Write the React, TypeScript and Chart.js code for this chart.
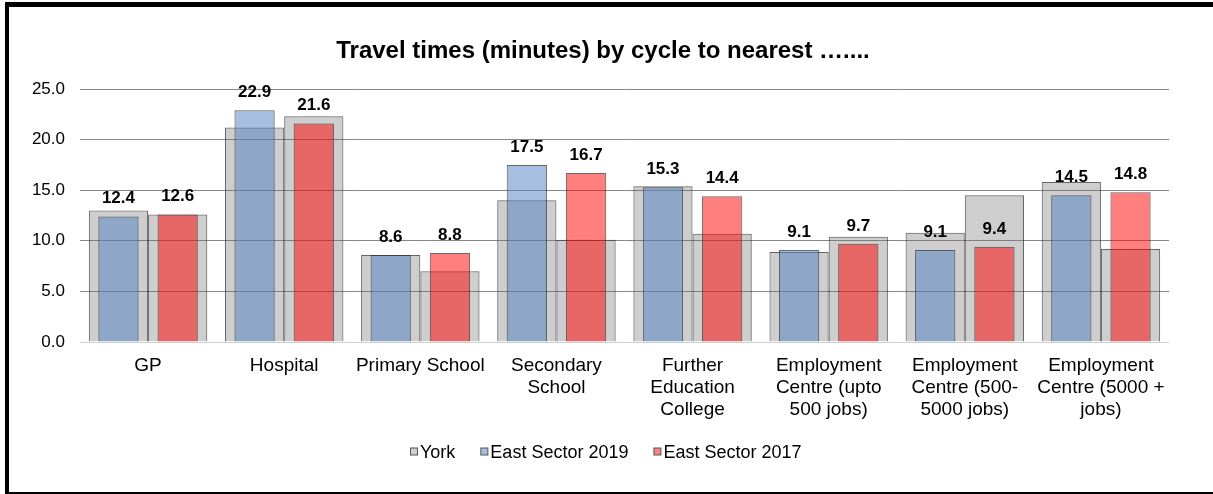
import React, { useEffect, useRef } from 'react';
import { Chart, registerables } from 'chart.js';

Chart.register(...registerables);

const categories: (string | string[])[] = [
  'GP',
  'Hospital',
  'Primary School',
  ['Secondary', 'School'],
  ['Further', 'Education', 'College'],
  ['Employment', 'Centre (upto', '500 jobs)'],
  ['Employment', 'Centre (500-', '5000 jobs)'],
  ['Employment', 'Centre (5000 +', 'jobs)'],
];

// York values (grey bars behind each East Sector bar)
const yorkBehind2019 = [13.0, 21.2, 8.6, 14.0, 15.4, 8.9, 10.8, 15.8];
const yorkBehind2017 = [12.6, 22.3, 7.0, 10.1, 10.7, 10.4, 14.5, 9.2];
const eastSector2019 = [12.4, 22.9, 8.6, 17.5, 15.3, 9.1, 9.1, 14.5];
const eastSector2017 = [12.6, 21.6, 8.8, 16.7, 14.4, 9.7, 9.4, 14.8];

const yMin = 0;
const yMax = 25;
const yStep = 5;

const titleText = 'Travel times (minutes) by cycle to nearest \u2026....';

const GREY = 'rgba(115,115,115,0.35)';
const BLUE = 'rgba(77,127,193,0.5)';
const RED = 'rgba(255,0,0,0.5)';
const EDGE = 'rgba(45,45,45,0.72)';

const legendItems = [
  { label: 'York', fill: '#cfcfcf' },
  { label: 'East Sector 2019', fill: '#a6bfe0' },
  { label: 'East Sector 2017', fill: '#ff8080' },
];

const FONT = "'Liberation Sans', Arial, sans-serif";

const overlayPlugin = {
  id: 'overlay',
  afterDatasetsDraw(chart: any) {
    const ctx = chart.ctx;
    ctx.save();
    ctx.fillStyle = '#000';
    ctx.font = `bold 17px ${FONT}`;
    ctx.textAlign = 'center';
    ctx.textBaseline = 'middle';
    [1, 2].forEach((di) => {
      const meta = chart.getDatasetMeta(di);
      const data = chart.data.datasets[di].data as number[];
      meta.data.forEach((bar: any, i: number) => {
        ctx.fillText(data[i].toFixed(1), bar.x, bar.y - 18);
      });
    });
    ctx.restore();
  },
  afterDraw(chart: any) {
    const ctx = chart.ctx;
    ctx.save();
    // title
    ctx.fillStyle = '#000';
    ctx.font = `bold 24px ${FONT}`;
    ctx.textAlign = 'center';
    ctx.textBaseline = 'middle';
    ctx.fillText(titleText, 603, 51);
    // legend
    ctx.font = `18px ${FONT}`;
    ctx.textAlign = 'left';
    const box = 7;
    const gapBoxText = 3;
    const gapItems = 25;
    const widths = legendItems.map((it) => ctx.measureText(it.label).width);
    const total = widths.reduce((a, w) => a + box + gapBoxText + w, 0) + gapItems * (legendItems.length - 1);
    let x = Math.round(606 - total / 2);
    const y = 452;
    legendItems.forEach((it, i) => {
      ctx.fillStyle = it.fill;
      ctx.fillRect(x + 0.5, y - box / 2 - 0.5, box, box);
      ctx.strokeStyle = '#555';
      ctx.lineWidth = 1;
      ctx.strokeRect(x + 0.5, y - box / 2 - 0.5, box, box);
      ctx.fillStyle = '#000';
      ctx.fillText(it.label, x + box + gapBoxText, y + 1);
      x += box + gapBoxText + widths[i] + gapItems;
    });
    ctx.restore();
  },
};

export default function App() {
  const canvasRef = useRef<HTMLCanvasElement | null>(null);

  useEffect(() => {
    if (!canvasRef.current) return;
    const barCommon = { categoryPercentage: 0.87, borderWidth: 1, borderColor: EDGE };
    const chart = new Chart(canvasRef.current, {
      type: 'bar',
      data: {
        labels: categories as any,
        datasets: [
          { label: 'York', data: yorkBehind2019, backgroundColor: GREY, stack: 'left', order: 2, barPercentage: 1.0, ...barCommon },
          { label: 'East Sector 2019', data: eastSector2019, backgroundColor: BLUE, stack: 'left', order: 1, barPercentage: 0.68, ...barCommon },
          { label: 'East Sector 2017', data: eastSector2017, backgroundColor: RED, stack: 'right', order: 1, barPercentage: 0.68, ...barCommon },
          { label: 'York', data: yorkBehind2017, backgroundColor: GREY, stack: 'right', order: 2, barPercentage: 1.0, ...barCommon },
        ],
      },
      options: {
        responsive: false,
        animation: false,
        layout: { padding: { top: 89, left: 0, right: 44, bottom: 52 } },
        plugins: {
          legend: { display: false },
          title: { display: false },
          tooltip: { enabled: false },
        },
        scales: {
          x: {
            type: 'category',
            offset: true,
            grid: { display: false, drawTicks: false },
            border: { display: false },
            ticks: {
              color: '#000',
              font: { family: FONT, size: 19, lineHeight: 1.16 },
              padding: 13,
              maxRotation: 0,
              minRotation: 0,
              autoSkip: false,
            },
            afterFit: (s: any) => { s.height = 100; },
          },
          y: {
            min: yMin,
            max: yMax,
            stacked: false,
            border: { display: false },
            grid: {
              drawTicks: false,
              color: (c: any) => (c.tick && c.tick.value === 0 ? '#d0d0d0' : '#868686'),
              lineWidth: 1,
            },
            ticks: {
              stepSize: yStep,
              color: '#000',
              padding: 15,
              font: { family: FONT, size: 17 },
              callback: (v: any) => Number(v).toFixed(1),
            },
            afterFit: (s: any) => { s.width = 80; },
          },
        },
      },
      plugins: [overlayPlugin],
    });
    return () => chart.destroy();
  }, []);

  return (
    <div style={{ position: 'fixed', left: 0, top: 0, width: 1213, height: 494, overflow: 'hidden', background: '#fff' }}>
      <canvas ref={canvasRef} width={1213} height={494} style={{ display: 'block', position: 'absolute', left: 0, top: 0 }} />
      <div
        style={{
          position: 'absolute',
          left: 5,
          top: 2,
          width: 1300,
          height: 492,
          boxSizing: 'border-box',
          borderTop: '5px solid #000',
          borderLeft: '4px solid #000',
          borderBottom: '2px solid #000',
          pointerEvents: 'none',
        }}
      />
    </div>
  );
}
